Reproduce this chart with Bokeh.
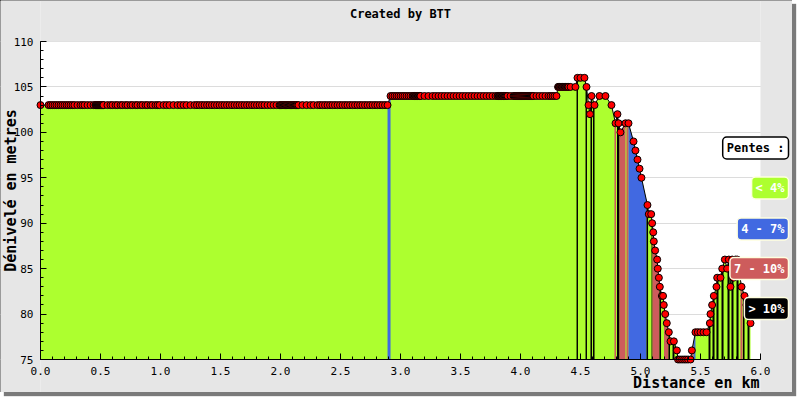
import math
import numpy as np
from bokeh.plotting import figure
from bokeh.models import Range1d, SingleIntervalTicker, PrintfTickFormatter, Label
from bokeh.embed import file_html
from bokeh.resources import INLINE

# ---------------- data ----------------
title_text = "Created by BTT"
x_label = "Distance en km"
y_label = "Dénivelé en metres"
legend_title = "Pentes :"
slope_labels = ["< 4%", "4 - 7%", "7 - 10%", "> 10%"]
slope_colors = ["#ADFF2F", "#4169E1", "#CD5C5C", "#000000"]

# flat stretch at 103 m
flat1_elev = 103
flat1_km = [0.000, 0.067, 0.083, 0.100, 0.117, 0.133, 0.150, 0.167, 0.183, 0.200, 0.217, 0.233,
            0.250, 0.267, 0.283, 0.308, 0.333, 0.350, 0.367, 0.392, 0.417, 0.442,
            0.458, 0.462, 0.466, 0.470, 0.474, 0.478, 0.482, 0.486, 0.490, 0.494, 0.498, 0.502,
            0.506, 0.510, 0.514, 0.518, 0.522, 0.525,
            0.558, 0.583, 0.600, 0.625, 0.642, 0.667, 0.683, 0.708, 0.725, 0.750, 0.767, 0.792,
            0.808, 0.833, 0.850, 0.875, 0.892, 0.917, 0.933, 0.958, 0.975, 0.992,
            1.025, 1.050, 1.075, 1.108, 1.142, 1.167, 1.192, 1.217, 1.250,
            1.283, 1.304, 1.325, 1.346, 1.367, 1.388, 1.408, 1.429, 1.450, 1.471, 1.492, 1.513,
            1.533, 1.554, 1.575, 1.596, 1.617, 1.638, 1.658, 1.679, 1.700, 1.721, 1.742, 1.763,
            1.783, 1.804, 1.825, 1.846, 1.867, 1.892,
            1.917, 1.942, 1.967, 1.992,
            2.000, 2.007, 2.014, 2.021, 2.028, 2.035, 2.042, 2.049, 2.056, 2.063, 2.070, 2.077,
            2.084, 2.091, 2.098, 2.105, 2.112, 2.119, 2.126, 2.133, 2.140,
            2.150, 2.183, 2.217, 2.250, 2.275,
            2.308, 2.329, 2.350, 2.371, 2.392, 2.413, 2.433, 2.454, 2.475, 2.496, 2.517, 2.538,
            2.558, 2.579, 2.600, 2.621, 2.642, 2.663, 2.683, 2.704, 2.725, 2.746, 2.767, 2.788,
            2.808, 2.829, 2.850, 2.871, 2.892]

# flat stretch at 104 m
flat2_elev = 104
flat2_km = [2.917, 2.933, 2.950, 2.967, 2.983, 3.000, 3.017, 3.033, 3.050, 3.067, 3.083, 3.100,
            3.108, 3.114, 3.120, 3.126, 3.132, 3.138, 3.144, 3.150, 3.156, 3.162, 3.167,
            3.200, 3.233, 3.267, 3.292, 3.317, 3.342, 3.367, 3.392, 3.417,
            3.442, 3.467, 3.492, 3.517, 3.542, 3.567, 3.592, 3.617, 3.642, 3.667, 3.692, 3.717,
            3.742, 3.767, 3.792,
            3.808, 3.814, 3.820, 3.826, 3.832, 3.838, 3.844, 3.850, 3.856, 3.862, 3.868, 3.875,
            3.883, 3.892, 3.917, 3.942,
            3.950, 3.958, 3.966, 3.974, 3.982, 3.990, 3.998, 4.006, 4.014, 4.022, 4.030, 4.038,
            4.046, 4.054, 4.062, 4.070, 4.078, 4.086, 4.094, 4.102, 4.108,
            4.133, 4.158, 4.183, 4.208, 4.233, 4.250, 4.267, 4.283, 4.300]

# hills at the end of the track
hill_km = [4.313, 4.319, 4.325, 4.331, 4.338, 4.344, 4.350, 4.356, 4.363, 4.369, 4.375, 4.381,
           4.388, 4.394, 4.400, 4.417, 4.458,
           4.475, 4.500, 4.533,
           4.550, 4.567, 4.579, 4.592, 4.617, 4.658, 4.708, 4.758, 4.792, 4.808, 4.817, 4.833,
           4.875, 4.900,
           4.942, 4.958, 4.975, 4.992, 5.008, 5.058, 5.069, 5.089, 5.097, 5.106, 5.111, 5.122,
           5.139, 5.144, 5.153, 5.161, 5.178, 5.188, 5.194, 5.206, 5.219, 5.236, 5.250, 5.278,
           5.303,
           5.313, 5.329, 5.346, 5.363, 5.379, 5.396, 5.417,
           5.428, 5.458, 5.478, 5.500, 5.525, 5.550,
           5.578, 5.583, 5.597, 5.611, 5.633, 5.639, 5.667, 5.681, 5.703, 5.722, 5.736, 5.750,
           5.764, 5.775, 5.792, 5.806, 5.842, 5.867, 5.883, 5.900, 5.917]
hill_m = [105, 105, 105, 105, 105, 105, 105, 105, 105, 105, 105, 105,
          105, 105, 105, 105, 105,
          106, 106, 106,
          105, 103, 102, 104, 103, 104, 104, 103, 101, 102, 101, 100,
          101, 101,
          99, 98, 97, 96, 95, 92, 91, 91, 90, 89, 88, 87,
          86, 85, 84, 83, 82, 82, 81, 80, 79, 78, 77, 77,
          76,
          75, 75, 75, 75, 75, 75, 75,
          76, 78, 78, 78, 78, 78,
          79, 80, 81, 82, 83, 84, 84, 85, 86, 85, 86, 83,
          86, 84, 86, 86, 83, 82, 81, 80, 79]

# slope classes that are not "< 4%" (index into slope_labels)
band_start_km = [2.892, 4.467, 4.542, 4.583, 4.604, 4.783, 4.804, 4.825, 4.883, 4.900, 5.050,
                 5.092, 5.100, 5.158, 5.196, 5.233, 5.267, 5.417, 5.442, 5.567, 5.600, 5.633,
                 5.675, 5.725, 5.758, 5.800, 5.833, 5.854, 5.892]
band_end_km = [2.917, 4.479, 4.554, 4.596, 4.617, 4.796, 4.825, 4.875, 4.900, 5.050, 5.063,
               5.100, 5.158, 5.171, 5.233, 5.246, 5.283, 5.442, 5.458, 5.583, 5.617, 5.650,
               5.692, 5.742, 5.775, 5.817, 5.850, 5.867, 5.908]
band_class = [1, 3, 3, 3, 3, 2, 3, 2, 2, 1, 3,
              3, 2, 3, 2, 3, 3, 2, 1, 3, 3, 3,
              3, 3, 3, 3, 2, 3, 3]

x_min, x_max = 0.0, 6.0
y_min, y_max = 75, 110

# ---------------- layout (page pixels) ----------------
W, H = 792, 392
PL, PR, PT, PB = 40, 760, 41, 359     # edges of the plotting area
BG = "#E6E6E6"
FONT = "DejaVu Sans Mono"

# the frame spans the whole canvas; ranges are widened so that the data area
# lands on the plotting area, and the axes are pinned to its edges
kx = (x_max - x_min) / (PR - PL)
ky = (y_max - y_min) / (PB - PT)
xr0, xr1 = x_min - PL * kx, x_max + (W - PR) * kx
yr0, yr1 = y_min - (H - PB) * ky, y_max + PT * ky

dist = np.array(flat1_km + flat2_km + hill_km, dtype=float)
elev = np.array([flat1_elev] * len(flat1_km) + [flat2_elev] * len(flat2_km) + hill_m, dtype=float)

p = figure(width=W, height=H, x_range=Range1d(xr0, xr1), y_range=Range1d(yr0, yr1),
           output_backend="svg", toolbar_location=None,
           min_border_left=0, min_border_right=0, min_border_top=0, min_border_bottom=0)
p.background_fill_color = "white"
p.border_fill_color = BG
p.outline_line_color = None
p.styles = {"outline": "1px solid black", "outline-offset": "-1px",
            "box-shadow": "4px 4px 1px #7a7a7a"}

p.xaxis.ticker = SingleIntervalTicker(interval=0.5, num_minor_ticks=5)
p.yaxis.ticker = SingleIntervalTicker(interval=5, num_minor_ticks=5)
p.xaxis.formatter = PrintfTickFormatter(format="%.1f")
p.yaxis.formatter = PrintfTickFormatter(format="%d")
p.xaxis.fixed_location = y_min
p.yaxis.fixed_location = x_min
p.xaxis.bounds = (x_min, x_max)
p.yaxis.bounds = (y_min, y_max)
for ax in (p.xaxis[0], p.yaxis[0]):
    ax.major_tick_in = 6
    ax.major_tick_out = 0
    ax.minor_tick_in = 3
    ax.minor_tick_out = 0
    ax.axis_line_color = "black"
    ax.major_tick_line_color = "black"
    ax.minor_tick_line_color = "black"
    ax.major_label_text_font = FONT
    ax.major_label_text_font_size = "11px"
    ax.major_label_text_color = "black"
p.xaxis.major_label_standoff = 7
p.yaxis.major_label_standoff = 7
p.xgrid.visible = False
p.ygrid.grid_line_color = "#DCDCDC"

# grey margins around the plotting area
p.quad(left=[xr0, x_max, x_min, x_min], right=[x_min, xr1, x_max, x_max],
       bottom=[yr0, yr0, y_max, yr0], top=[yr1, yr1, yr1, y_min],
       fill_color=BG, line_color=None)

# base fill (< 4%)
p.varea(x=dist, y1=y_min, y2=elev, fill_color=slope_colors[0])

# coloured slope bands following the profile
xs, ys, cols = [], [], []
for s, e, c in zip(band_start_km, band_end_km, band_class):
    inner = [d for d in dist if s < d < e]
    bx = [s] + inner + [e]
    by = list(np.interp(bx, dist, elev))
    xs.append(bx + bx[::-1])
    ys.append(by + [y_min] * len(bx))
    cols.append(slope_colors[c])
p.patches(xs, ys, fill_color=cols, line_color=None)

p.line(dist, elev, line_color="black", line_width=1)
p.scatter(dist, elev, size=7, fill_color="red", line_color="black", line_width=1)


# label positions: screen units from the frame's (= canvas) bottom-left corner
def sx(px):
    return px


def sy(py):
    return H - py


p.add_layout(Label(x=sx(400), y=sy(13), x_units="screen", y_units="screen", text=title_text,
                   text_align="center", text_baseline="middle", text_font=FONT,
                   text_font_style="bold", text_font_size="12px", text_color="black"))
p.add_layout(Label(x=sx(10), y=sy(190), x_units="screen", y_units="screen", text=y_label,
                   angle=math.pi / 2, text_align="center", text_baseline="middle", text_font=FONT,
                   text_font_style="bold", text_font_size="15px", text_color="black"))
p.add_layout(Label(x=sx(759), y=sy(382), x_units="screen", y_units="screen", text=x_label,
                   text_align="right", text_baseline="middle", text_font=FONT,
                   text_font_style="bold", text_font_size="15px", text_color="black"))

# legend boxes
legend_items = [(legend_title, "white", "black", "black", 147.5)]
legend_centers_y = [187.5, 228.5, 268, 308]
for lab, col, cy in zip(slope_labels, slope_colors, legend_centers_y):
    legend_items.append((lab, col, "white", "#FFFFE0", cy))

for text, bg, fg, border, cy in legend_items:
    p.add_layout(Label(x=sx(788) + 3, y=sy(cy) - 3, x_units="screen", y_units="screen", text=text,
                       text_align="right", text_baseline="middle", text_font=FONT,
                       text_font_style="bold", text_font_size="12px", text_alpha=0,
                       background_fill_color="#999999", padding=4, border_radius=4))
    p.add_layout(Label(x=sx(788), y=sy(cy), x_units="screen", y_units="screen", text=text,
                       text_align="right", text_baseline="middle", text_font=FONT,
                       text_font_style="bold", text_font_size="12px", text_color=fg,
                       background_fill_color=bg, border_line_color=border, border_line_width=1.5,
                       padding=4, border_radius=4))

open("out.html", "w").write(file_html(p, INLINE))
